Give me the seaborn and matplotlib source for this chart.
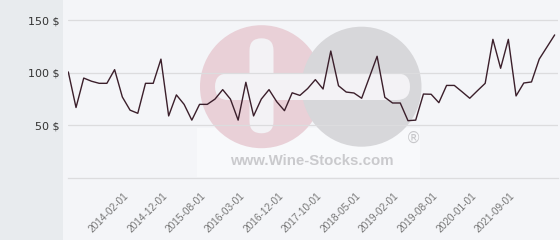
import matplotlib
matplotlib.use("Agg")
import matplotlib.pyplot as plt
import matplotlib.transforms as mtransforms
import seaborn as sns
import pandas as pd
import numpy as np
from matplotlib.patches import Circle, FancyBboxPatch, Rectangle

# ---- data ----
prices = [100.8, 67, 95, 92, 90, 90, 103, 77, 64.5, 61.5,
          90, 90, 113, 59, 79, 70, 55, 70, 70, 75,
          84, 75, 55, 91, 59, 75, 84, 72.5, 64, 81,
          78.5, 85, 93.5, 84.6, 120.7, 87.7, 81.7, 80.8, 75.8, 95.7,
          115.7, 76.7, 71.3, 71.3, 54.5, 55, 79.8, 79.6, 71.6, 88,
          88, 82, 75.8, 83, 90, 131.8, 104.3, 131.8, 78, 90.3,
          91.3, 113, 124.5, 136]
tick_labels = ["2014-02-01", "2014-12-01", "2015-08-01", "2016-03-01",
               "2016-12-01", "2017-10-01", "2018-05-01", "2019-02-01",
               "2019-08-01", "2020-01-01", "2021-09-01"]
y_ticks = [50, 100, 150]
y_labels = ["50 $", "100 $", "150 $"]

df = pd.DataFrame({"idx": np.arange(len(prices)), "price": prices})

sns.set_theme(style="white")
plt.rcParams["font.family"] = ["DejaVu Sans"]

W, H = 560, 240
fig = plt.figure(figsize=(W / 100, H / 100), dpi=100)
fig.patch.set_facecolor("#f4f5f8")

# left panel
fig.patches.append(Rectangle((0, 0), 63 / W, 1, transform=fig.transFigure,
                             facecolor="#e8ebee", edgecolor="none", zorder=-5))

left, right, top, bottom = 68.3, 558, 0, 178
ax = fig.add_axes([left / W, (H - bottom) / H, (right - left) / W, (bottom - top) / H])
ax.set_facecolor("#f4f5f8")

# watermark (pixel coords -> inches)
def P(px, py):
    return (px / 100, (H - py) / 100)

tr = fig.dpi_scale_trans
ax.add_patch(Rectangle(P(197, 177), 2.23, 0.49, transform=tr, facecolor="#f8f9fb",
                       edgecolor="none", zorder=0.1, clip_on=False))
ax.add_patch(Circle(P(261.5, 86.7), 0.615, transform=tr, facecolor="#e9d0d7",
                    edgecolor="none", zorder=0.2, clip_on=False))
ax.add_patch(Circle(P(361.5, 86.7), 0.60, transform=tr, facecolor="#d7d7da",
                    edgecolor="none", zorder=0.2, clip_on=False))
ax.add_patch(FancyBboxPatch(P(249.5, 133.3), 0.24, 0.95, transform=tr,
                            boxstyle="round,pad=0,rounding_size=0.12",
                            facecolor="#f3f2f5", edgecolor="none", zorder=0.3, clip_on=False))
ax.add_patch(FancyBboxPatch(P(215, 100), 1.95, 0.267, transform=tr,
                            boxstyle="round,pad=0,rounding_size=0.133",
                            facecolor="#f3f2f5", edgecolor="none", zorder=0.3, clip_on=False))
fig.text(311.7 / W, (H - 161) / H, "www.Wine-Stocks.com", family="Liberation Sans",
         fontweight="bold", fontsize=10.8, color="#cacacd", ha="center", va="center", zorder=0.4)
fig.text(413 / W, (H - 138) / H, "®", family="DejaVu Sans", fontsize=11,
         color="#c8c8cb", ha="center", va="center", zorder=0.4)

sns.lineplot(data=df, x="idx", y="price", ax=ax, color="#3b1f2b", linewidth=1.0, zorder=3)

ax.set_xlim(0, (right - left) / 7.72)
ax.set_ylim(0, 178 / 1.052)
ax.set_yticks(y_ticks)
ax.set_yticklabels(y_labels)
ax.grid(axis="y", color="#dcdcde", linewidth=0.9)
ax.set_axisbelow(True)
ax.grid(axis="x", visible=False)

ax.set_xticks(list(range(8, 8 + 5 * len(tick_labels), 5)))
ax.tick_params(axis="x", length=0, pad=11.5)
ax.tick_params(axis="y", length=0, pad=6.5, labelsize=8, labelcolor="#333333")
ax.set_xticklabels(tick_labels, rotation=45, ha="right", va="center",
                   rotation_mode="anchor", family="Liberation Sans", fontsize=7.3, color="#777777")
shift = mtransforms.ScaledTranslation(-3 / 100, 0, fig.dpi_scale_trans)
for lab in ax.get_xticklabels():
    lab.set_transform(lab.get_transform() + shift)
ax.set_xlabel("")
ax.set_ylabel("")
for s in ["top", "right", "left"]:
    ax.spines[s].set_visible(False)
ax.spines["bottom"].set_color("#dcdcde")
ax.spines["bottom"].set_linewidth(0.9)

fig.savefig("out.png", dpi=100)
